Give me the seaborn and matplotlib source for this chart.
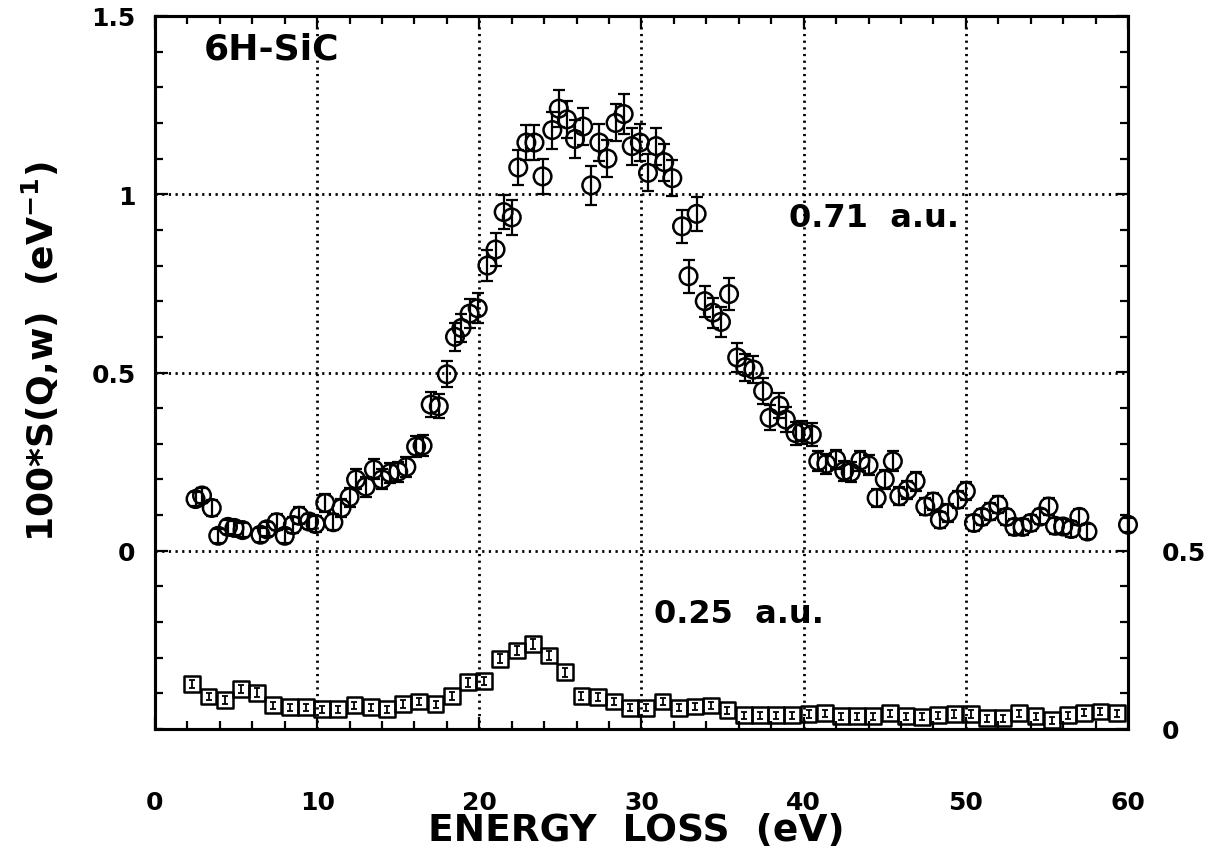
import numpy as np
import pandas as pd
import matplotlib
matplotlib.use("Agg")
import matplotlib.pyplot as plt
import seaborn as sns
from matplotlib.ticker import MultipleLocator

# ---------------- data ----------------
# 0.71 a.u. series (left axis)
energy_071 = [2.5, 2.9, 3.5, 3.9, 4.5, 4.9, 5.4, 6.5, 6.9, 7.5, 8.0, 8.5, 8.9, 9.5, 9.9,
              10.5, 11.0, 11.5, 12.0, 12.4, 13.0, 13.5, 14.0, 14.5, 15.0, 15.5, 16.1, 16.5,
              17.0, 17.5, 18.0, 18.5, 18.9, 19.4, 19.9, 20.5, 21.0, 21.5, 22.0, 22.4, 22.9,
              23.4, 23.9, 24.5, 24.9, 25.4, 25.9, 26.4, 26.9, 27.4, 27.9, 28.4, 28.9, 29.4,
              29.9, 30.4, 30.9, 31.4, 31.9, 32.5, 32.9, 33.4, 33.9, 34.4, 34.9, 35.4, 35.9,
              36.4, 36.9, 37.5, 37.9, 38.5, 38.9, 39.5, 39.9, 40.5, 40.9, 41.4, 42.0, 42.5,
              42.9, 43.5, 44.0, 44.5, 45.0, 45.5, 45.9, 46.4, 46.9, 47.5, 48.0, 48.4, 48.9,
              49.5, 50.0, 50.5, 51.0, 51.5, 52.0, 52.5, 53.0, 53.5, 54.0, 54.6, 55.1, 55.5,
              56.0, 56.5, 57.0, 57.5, 60.0]
s_071 = [0.145, 0.155, 0.120, 0.042, 0.067, 0.064, 0.058, 0.045, 0.060, 0.080, 0.042, 0.072,
         0.098, 0.082, 0.075, 0.134, 0.080, 0.120, 0.150, 0.200, 0.180, 0.228, 0.200, 0.218,
         0.222, 0.235, 0.292, 0.295, 0.410, 0.405, 0.495, 0.600, 0.625, 0.665, 0.680, 0.800,
         0.845, 0.950, 0.935, 1.075, 1.145, 1.145, 1.050, 1.180, 1.240, 1.210, 1.155, 1.190,
         1.025, 1.145, 1.100, 1.200, 1.225, 1.135, 1.145, 1.060, 1.135, 1.090, 1.045, 0.910,
         0.770, 0.945, 0.700, 0.668, 0.642, 0.720, 0.542, 0.515, 0.508, 0.448, 0.373, 0.407,
         0.368, 0.330, 0.332, 0.326, 0.251, 0.244, 0.256, 0.224, 0.220, 0.253, 0.240, 0.148,
         0.200, 0.251, 0.153, 0.171, 0.195, 0.124, 0.138, 0.087, 0.106, 0.143, 0.167, 0.078,
         0.095, 0.110, 0.129, 0.095, 0.067, 0.067, 0.078, 0.096, 0.124, 0.070, 0.068, 0.061,
         0.095, 0.054, 0.073]
err_071 = [0.020, 0.022, 0.022, 0.020, 0.020, 0.020, 0.020, 0.020, 0.020, 0.022, 0.020, 0.022,
           0.024, 0.022, 0.022, 0.026, 0.022, 0.026, 0.026, 0.028, 0.028, 0.028, 0.028, 0.028,
           0.028, 0.028, 0.030, 0.030, 0.034, 0.034, 0.036, 0.040, 0.040, 0.040, 0.042, 0.044,
           0.046, 0.048, 0.048, 0.050, 0.050, 0.050, 0.050, 0.052, 0.052, 0.052, 0.052, 0.052,
           0.055, 0.052, 0.052, 0.052, 0.055, 0.052, 0.052, 0.052, 0.052, 0.052, 0.050, 0.046,
           0.046, 0.048, 0.044, 0.042, 0.042, 0.044, 0.040, 0.038, 0.038, 0.036, 0.035, 0.036,
           0.034, 0.032, 0.032, 0.032, 0.028, 0.028, 0.028, 0.028, 0.028, 0.028, 0.028, 0.025,
           0.026, 0.028, 0.025, 0.026, 0.026, 0.024, 0.024, 0.022, 0.024, 0.024, 0.026, 0.022,
           0.022, 0.024, 0.024, 0.022, 0.022, 0.022, 0.022, 0.022, 0.024, 0.022, 0.022, 0.022,
           0.022, 0.022, 0.020]

# 0.25 a.u. series (right axis)
energy_025 = [2.3, 3.3, 4.3, 5.3, 6.3, 7.3, 8.3, 9.3, 10.3, 11.3, 12.3, 13.3, 14.3, 15.3,
              16.3, 17.3, 18.3, 19.3, 20.3, 21.3, 22.3, 23.3, 24.3, 25.3, 26.3, 27.3, 28.3,
              29.3, 30.3, 31.3, 32.3, 33.3, 34.3, 35.3, 36.3, 37.3, 38.3, 39.3, 40.3, 41.3,
              42.3, 43.3, 44.3, 45.3, 46.3, 47.3, 48.3, 49.3, 50.3, 51.3, 52.3, 53.3, 54.3,
              55.3, 56.3, 57.3, 58.3, 59.3]
s_025 = [0.126, 0.091, 0.081, 0.112, 0.102, 0.067, 0.061, 0.061, 0.055, 0.055, 0.067, 0.061,
         0.055, 0.070, 0.077, 0.069, 0.093, 0.131, 0.135, 0.197, 0.220, 0.238, 0.206, 0.159,
         0.093, 0.089, 0.077, 0.060, 0.060, 0.077, 0.060, 0.063, 0.066, 0.053, 0.039, 0.039,
         0.039, 0.039, 0.042, 0.044, 0.036, 0.036, 0.036, 0.044, 0.036, 0.034, 0.039, 0.042,
         0.042, 0.030, 0.030, 0.044, 0.036, 0.025, 0.039, 0.046, 0.049, 0.044]
err_025 = [0.012, 0.011, 0.011, 0.012, 0.012, 0.010, 0.010, 0.010, 0.010, 0.010, 0.010, 0.010,
           0.010, 0.010, 0.011, 0.010, 0.011, 0.012, 0.012, 0.013, 0.013, 0.014, 0.013, 0.012,
           0.011, 0.011, 0.010, 0.010, 0.010, 0.010, 0.010, 0.010, 0.010, 0.010, 0.010, 0.010,
           0.010, 0.010, 0.010, 0.010, 0.010, 0.010, 0.010, 0.010, 0.010, 0.010, 0.010, 0.010,
           0.010, 0.010, 0.010, 0.010, 0.010, 0.010, 0.010, 0.010, 0.010, 0.010]

x_ticks = [0, 10, 20, 30, 40, 50, 60]
left_ticks = [0, 0.5, 1, 1.5]
left_tick_labels = ["0", "0.5", "1", "1.5"]
right_ticks = [0, 0.5]
right_tick_labels = ["0", "0.5"]

# ---------------- style ----------------
sns.set_style("white")
plt.rcParams["font.family"] = ["DejaVu Sans"]
plt.rcParams["font.weight"] = "bold"
for k in ["text.color", "axes.labelcolor", "xtick.color", "ytick.color", "axes.edgecolor"]:
    plt.rcParams[k] = "black"

W, H = 1211, 854
fig = plt.figure(figsize=(W / 100, H / 100), dpi=100)
ax = fig.add_axes([155 / W, 1 - 730 / H, (1128 - 155) / W, (730 - 17) / H])
ax2 = ax.twinx()

df071 = pd.DataFrame({"E": energy_071, "S": s_071, "err": err_071})
df025 = pd.DataFrame({"E": energy_025, "S": s_025, "err": err_025})

# error bars
ax.errorbar(df071["E"], df071["S"], yerr=df071["err"], fmt="none", ecolor="black",
            elinewidth=1.6, capsize=4.5, capthick=1.6, clip_on=False, zorder=3)
ax2.errorbar(df025["E"], df025["S"], yerr=df025["err"], fmt="none", ecolor="black",
             elinewidth=1.3, capsize=2.5, capthick=1.3, clip_on=False, zorder=3)

# markers
sns.scatterplot(data=df071, x="E", y="S", ax=ax, marker="o", s=160,
                facecolor="none", edgecolor="black", linewidth=1.8, clip_on=False,
                zorder=4, legend=False)
sns.scatterplot(data=df025, x="E", y="S", ax=ax2, marker="s", s=130,
                facecolor="none", edgecolor="black", linewidth=1.8, clip_on=False,
                zorder=4, legend=False)

# axes limits
ax.set_xlim(0, 60)
ax.set_ylim(-0.5, 1.5)
ax2.set_ylim(0, 2.0)

# grid
for gx in [10, 20, 30, 40, 50]:
    ax.axvline(gx, color="black", lw=2.0, ls=(0, (0.8, 1.6)), zorder=1)
for gy in [0, 0.5, 1.0]:
    ax.axhline(gy, color="black", lw=2.0, ls=(0, (0.8, 1.6)), zorder=1)

# ticks
ax.set_xticks(x_ticks)
ax.set_xticklabels([str(t) for t in x_ticks])
ax.xaxis.set_minor_locator(MultipleLocator(2))
ax.set_yticks(left_ticks)
ax.set_yticklabels(left_tick_labels)
ax.yaxis.set_minor_locator(MultipleLocator(0.1))
ax.tick_params(axis="x", which="both", direction="in", top=True, bottom=True,
               labelsize=18, pad=44)
ax.tick_params(axis="y", which="both", direction="in", left=True, right=False,
               labelsize=18, pad=14)
ax.tick_params(which="major", length=9, width=1.6)
ax.tick_params(which="minor", length=5.5, width=1.6)

ax2.set_yticks([0, 0.5, 1.0, 1.5, 2.0])
ax2.set_yticklabels(right_tick_labels + ["", "", ""])
ax2.yaxis.set_minor_locator(MultipleLocator(0.1))
ax2.tick_params(axis="y", which="both", direction="in", right=True, labelsize=18, pad=24)
ax2.tick_params(which="major", length=9, width=1.6)
ax2.tick_params(which="minor", length=5.5, width=1.6)

for a in (ax, ax2):
    for sp in a.spines.values():
        sp.set_linewidth(2.2)
        sp.set_color("black")
    a.set_xlabel("")
    a.set_ylabel("")

for lab in ax.get_xticklabels() + ax.get_yticklabels() + ax2.get_yticklabels():
    lab.set_fontweight("bold")

# labels
fig.text((155 + 1128) / 2 / W - 0.004, 1 - 831 / H, "ENERGY  LOSS  (eV)", ha="center",
         va="center", fontsize=27, fontweight="bold")
fig.text(40 / W, 1 - 352 / H, r"100*S(Q,w)  (eV$^{\mathbf{-1}}$)", rotation=90, ha="center",
         va="center", fontsize=26, fontweight="bold")

# annotations
ax.text(3.0, 1.41, "6H-SiC", fontsize=26, fontweight="bold", ha="left", va="center")
ax.text(39.1, 0.935, "0.71  a.u.", fontsize=23, fontweight="bold", ha="left", va="center")
ax.text(30.8, -0.175, "0.25  a.u.", fontsize=23, fontweight="bold", ha="left", va="center")

fig.savefig("out.png", dpi=100)
